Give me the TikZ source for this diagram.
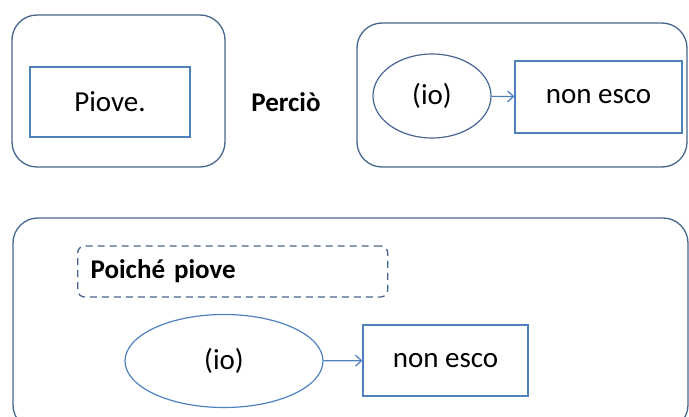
\documentclass[tikz,border=0pt]{standalone}
\usepackage{fontspec}
\setmainfont{Carlito}
\usepackage{xcolor}
\usetikzlibrary{shapes.geometric, arrows.meta}

\definecolor{framecol}{HTML}{46658E}
\definecolor{shapecol}{HTML}{4F81BD}

\begin{document}
\begin{tikzpicture}[x = 1pt, y = -1pt,
		frame/.style = {draw = framecol, line width = 1.3pt, rounded corners = 25pt},
		box/.style = {draw = shapecol, line width = 1.2pt, minimum height = 71pt},
		blob/.style = {draw = #1, ellipse, line width = 1.2pt},
		word/.style = {font = \fontsize{29}{34}\selectfont},
		bold/.style = {font = \fontsize{27}{32}\selectfont\bfseries}]
	\clip (0,0) rectangle (689,417);

	\draw [frame] (12,15) rectangle (225,167);
	\draw [frame] (357,23) rectangle (687,167);
	\draw [frame] (13,218) rectangle (688,430);

	\node [box, word, minimum width = 160pt, minimum height = 70pt] (rain) at (110,102) {Piove.};
	\node [bold] (so) at (286,102) {Perciò};

	\node [blob = framecol, word, minimum width = 118pt, minimum height = 84pt] (me) at (432,96) {(io)\hspace{8pt}};
	\node [box, word, minimum width = 167pt, minimum height = 72pt] (stay) at (598.5,97) {non esco};

	\node [draw = framecol, dashed, dash pattern = on 7pt off 5pt, line width = 1.3pt, rounded corners = 7pt,
		bold, anchor = west, inner xsep = 13pt, text width = 284pt, align = left, minimum height = 51pt]
		(since) at (77,271.5) {Poiché piove};

	\node [blob = shapecol, word, minimum width = 198pt, minimum height = 93pt] (me2) at (224,361) {(io)\hspace{78pt}};
	\node [box, word, minimum width = 165pt] (stay2) at (445.5,360.5) {non esco};

	\begin{scope}[-{Straight Barb[length = 6pt, width = 11pt]}, draw = shapecol, line width = 1.2pt]
		\draw (me) -- (stay);
		\draw (me2) -- (stay2);
	\end{scope}
\end{tikzpicture}
\end{document}
